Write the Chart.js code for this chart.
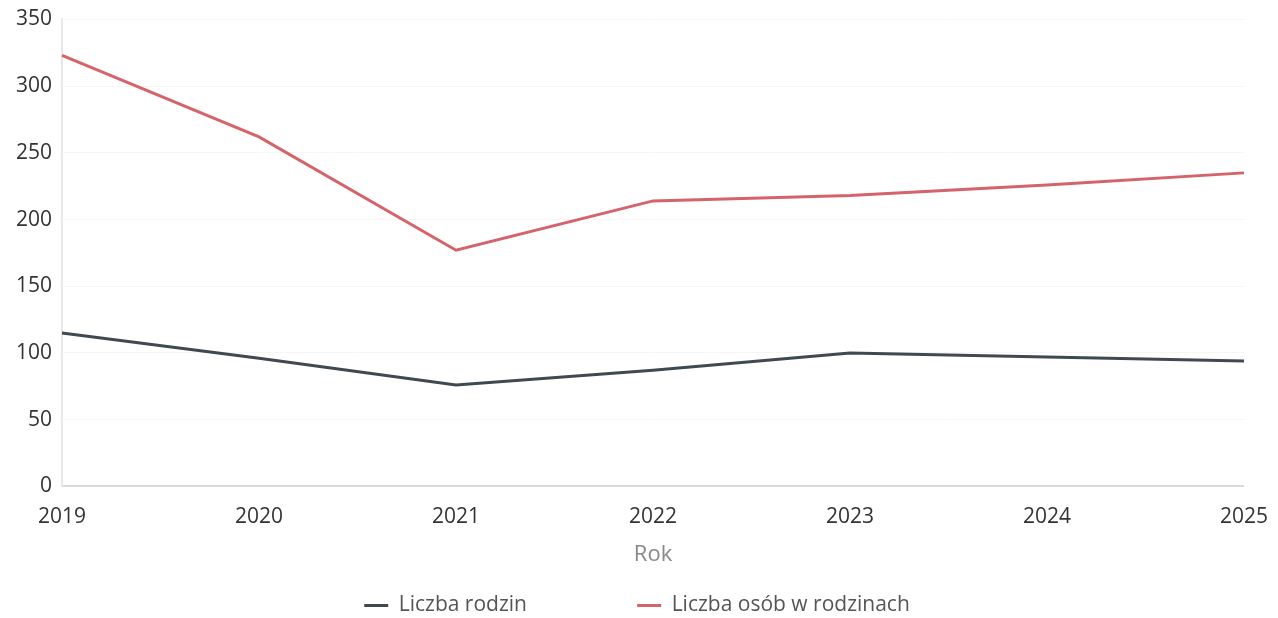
<!DOCTYPE html>
<html>
<head>
<meta charset="utf-8">
<script src="https://cdn.jsdelivr.net/npm/chart.js@4/dist/chart.umd.min.js"></script>
<style>
html,body{margin:0;padding:0;background:#fff;}
#wrap{width:1278px;height:618px;position:relative;}
</style>
</head>
<body>
<div id="wrap"><canvas id="c"></canvas></div>
<script>
const years = ['2019','2020','2021','2022','2023','2024','2025'];
const liczbaRodzin = [115, 96, 76, 87, 100, 97, 94];
const liczbaOsob = [323, 262, 177, 214, 218, 226, 235];
const yTicks = [0, 50, 100, 150, 200, 250, 300, 350];
const seriesNames = ['Liczba rodzin', 'Liczba osób w rodzinach'];

Chart.defaults.font.family = '"Open Sans", sans-serif';

const GAP = '\u00a0'.repeat(18);

new Chart(document.getElementById('c'), {
  type: 'line',
  data: {
    labels: years,
    datasets: [
      {label: seriesNames[0], data: liczbaRodzin, borderColor: '#3e4a4f', backgroundColor: '#3e4a4f', borderWidth: 3, pointRadius: 0, tension: 0},
      {label: seriesNames[1], data: liczbaOsob, borderColor: '#d6636a', backgroundColor: '#d6636a', borderWidth: 3, pointRadius: 0, tension: 0}
    ]
  },
  options: {
    responsive: true,
    maintainAspectRatio: false,
    animation: false,
    layout: {padding: {left: 6, right: 10, top: 3, bottom: -8}},
    plugins: {
      tooltip: {enabled: false},
      legend: {
        position: 'bottom',
        labels: {
          boxWidth: 24, boxHeight: 3, color: '#555', padding: 12,
          font: {size: 21},
          generateLabels: (chart) => {
            const items = Chart.defaults.plugins.legend.labels.generateLabels(chart);
            items.forEach((it, i) => { it.lineWidth = 0; if (i === 0) it.text = it.text + GAP; });
            return items;
          }
        }
      }
    },
    scales: {
      x: {
        offset: false,
        grid: {display: false},
        border: {display: true, color: '#d8d8d8', width: 2},
        ticks: {color: '#333', font: {size: 21}, padding: 10, maxRotation: 0},
        title: {display: true, text: 'Rok', color: '#888', font: {size: 22}, padding: {top: 2, bottom: 15}}
      },
      y: {
        min: 0, max: 350,
        afterBuildTicks: (ax) => { ax.ticks = yTicks.map(v => ({value: v})); },
        grid: {display: true, color: '#f6f6f6', drawTicks: false},
        border: {display: true, color: '#e8e8e8', width: 2},
        ticks: {color: '#333', font: {size: 21, lineHeight: 0.9}, padding: 10}
      }
    }
  }
});
</script>
</body>
</html>
